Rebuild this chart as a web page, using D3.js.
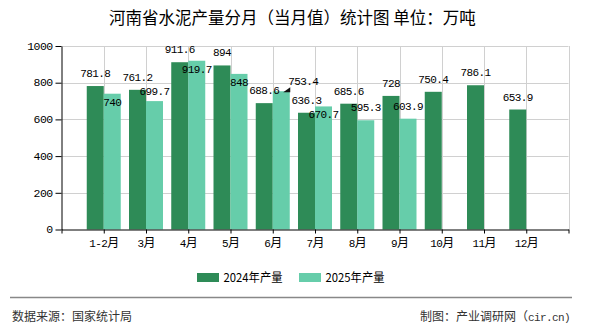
<!DOCTYPE html>
<html><head><meta charset="utf-8">
<script src="https://cdn.jsdelivr.net/npm/d3@7/dist/d3.min.js"></script>
<style>html,body{margin:0;padding:0;background:#fff;}svg{display:block;}</style>
</head><body>
<svg id="c" width="590" height="330"></svg>
<script>
const categories = ["1-2月","3月","4月","5月","6月","7月","8月","9月","10月","11月","12月"];
const values2024 = [781.8,761.2,911.6,894,688.6,636.3,685.6,728,750.4,786.1,653.9];
const values2025 = [740,699.7,919.7,848,753.4,670.7,595.3,603.9];
const seriesNames = ["2024年产量","2025年产量"];
const seriesColors = ["#2e8b57","#66cdaa"];
const yTicks = [0,200,400,600,800,1000];
const title = "河南省水泥产量分月（当月值）统计图 单位：万吨";
const sourceText = "数据来源：国家统计局";
const creditText = "制图：产业调研网（cir.cn)";

const svg = d3.select("#c");
const L = 61.5, R = 568.5, T = 46, B = 229.5;
const MONO = "'Liberation Mono','DejaVu Sans Mono',monospace";
const CJK = "'Noto Sans CJK SC','Noto Sans',sans-serif";

function mixText(sel, str, asz, csz){
  sel.text(null);
  const runs = str.match(/[\x00-\x7f]+|[^\x00-\x7f]+/g) || [];
  runs.forEach(r => {
    const ascii = /^[\x00-\x7f]+$/.test(r);
    sel.append("tspan").text(r)
      .attr("font-family", ascii ? MONO : CJK)
      .attr("font-size", ascii ? asz : csz)
      .attr("letter-spacing", ascii ? -0.6 : 0);
  });
}

const x = d3.scalePoint().domain(["__s", ...categories, "__e"]).range([L, R]);
const y = d3.scaleLinear().domain([0, 1000]).range([B, T]);
const bw = 17;

// grid
svg.append("g").selectAll("line").data(yTicks.filter(d => d > 0)).join("line")
  .attr("x1", L).attr("x2", R).attr("y1", d => Math.round(y(d)) + 0.5).attr("y2", d => Math.round(y(d)) + 0.5)
  .attr("stroke", "#d0d0d0").attr("stroke-width", 1);
svg.append("g").selectAll("line").data(x.domain().slice(1)).join("line")
  .attr("x1", d => Math.round(x(d)) + 0.5).attr("x2", d => Math.round(x(d)) + 0.5)
  .attr("y1", T).attr("y2", B)
  .attr("stroke", "#d0d0d0").attr("stroke-width", 1);

// bars
const series = [values2024, values2025];
series.forEach((vals, s) => {
  svg.append("g").selectAll("rect").data(vals).join("rect")
    .attr("x", (d, i) => x(categories[i]) + (s === 0 ? -bw : 0))
    .attr("width", bw)
    .attr("y", d => y(d))
    .attr("height", d => B - y(d))
    .attr("fill", seriesColors[s]);
});

// axes
const yAxis = svg.append("g").attr("transform", `translate(${L},0)`)
  .call(d3.axisLeft(y).tickValues(yTicks).tickSize(6).tickPadding(3).tickSizeOuter(0));
yAxis.selectAll("text").each(function(d){ mixText(d3.select(this), String(d), 11.5, 12); })
  .attr("fill", "#000");
const xAxis = svg.append("g").attr("transform", `translate(0,${B})`)
  .call(d3.axisBottom(x).tickSize(4).tickPadding(4).tickSizeOuter(0));
xAxis.selectAll("text").each(function(d){ mixText(d3.select(this), d.startsWith("__") ? "" : d, 11, 12); })
  .attr("fill", "#000").attr("dy", "0.95em");
svg.selectAll(".domain").attr("stroke", "#000");
svg.selectAll(".tick line").attr("stroke", "#000");

// value labels with simple collision avoidance
const CW = 6;
function box(cx, b, txt){ const w = txt.length * CW; return {x0: cx - w/2 - 1, x1: cx + w/2 + 1, y0: b - 11, y1: b + 2}; }
function hit(a, c){ return a.x0 < c.x1 && c.x0 < a.x1 && a.y0 < c.y1 && c.y0 < a.y1; }
const labels = svg.append("g");
function addLabel(cx, b, txt, anchor){
  const t = labels.append("text").attr("x", cx).attr("y", b).attr("text-anchor", anchor || "middle").attr("fill", "#000");
  mixText(t, txt, 11, 12);
  return t;
}
const defs = svg.append("defs");
const grad = defs.append("linearGradient").attr("id", "lg");
grad.append("stop").attr("offset", "0%").attr("stop-color", "#555");
grad.append("stop").attr("offset", "100%").attr("stop-color", "#e0e0e0");

categories.forEach((c, i) => {
  const cx0 = x(c) - bw/2, cx1 = x(c) + bw/2;
  const v0 = values2024[i], v1 = values2025[i];
  const t0 = String(v0), b0 = y(v0) - 9;
  addLabel(cx0, b0, t0);
  const bx0 = box(cx0, b0, t0);
  if (v1 === undefined) return;
  const t1 = String(v1), top1 = y(v1);
  let b1 = top1 - 9;
  if (!hit(box(cx1, b1, t1), bx0)) { addLabel(cx1, b1, t1); return; }
  const nud = b0 + 14;
  if (nud <= top1 - 5) { addLabel(cx1, nud, t1); return; }
  const ins = top1 + 12;
  if (!hit(box(cx1, ins, t1), bx0)) { addLabel(cx1, ins, t1); return; }
  // leader line with arrowhead
  const sx = cx1 + 7, lb = top1 - 6;
  const tipX = cx1 + 2, tipY = top1 + 1, ly = lb + 4;
  const ex = sx + t1.length * CW + 4;
  svg.append("line").attr("x1", tipX + 6).attr("x2", ex).attr("y1", ly).attr("y2", ly)
    .attr("stroke", "url(#lg)").attr("stroke-width", 2.5);
  svg.append("path").attr("d", `M${tipX},${tipY} L${tipX + 7},${ly - 2} L${tipX + 7},${tipY} Z`).attr("fill", "#111");
  addLabel(sx, lb, t1, "start");
});

// title
svg.append("text").attr("x", 109).attr("y", 24).attr("font-family", CJK).attr("font-size", 16.5)
  .attr("fill", "#000").text(title);

// legend
const lx = [197, 299];
seriesNames.forEach((n, s) => {
  svg.append("rect").attr("x", lx[s]).attr("y", 273).attr("width", 22).attr("height", 9).attr("fill", seriesColors[s]);
  svg.append("text").attr("x", lx[s] + 26.5).attr("y", 282).attr("font-family", CJK).attr("font-size", 12)
    .attr("textLength", 59).attr("lengthAdjust", "spacingAndGlyphs").attr("fill", "#000").text(n);
});

// footer
svg.append("line").attr("x1", 10).attr("x2", 572).attr("y1", 297.5).attr("y2", 297.5).attr("stroke", "#888").attr("stroke-width", 1.5);
const s1 = svg.append("text").attr("x", 12).attr("y", 321).attr("fill", "#333");
mixText(s1, sourceText, 11, 12);
const s2 = svg.append("text").attr("x", 570).attr("y", 321).attr("text-anchor", "end").attr("fill", "#333");
mixText(s2, creditText, 11, 12);
</script>
</body></html>
